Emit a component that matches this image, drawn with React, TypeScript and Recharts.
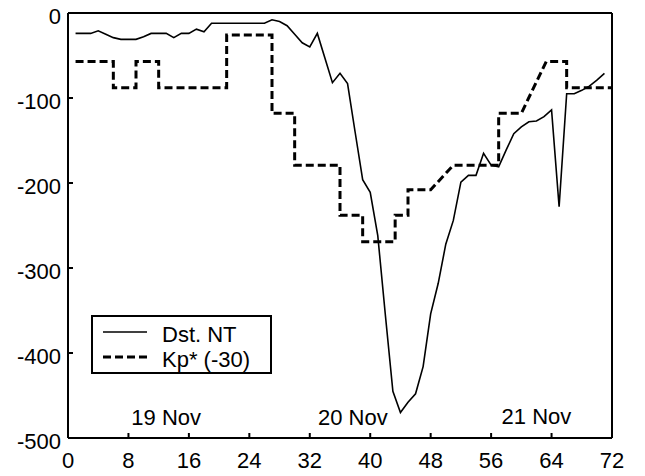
import React from 'react';
import { LineChart, Line, XAxis, YAxis, ReferenceDot, Legend } from 'recharts';

// Dst (hourly, starting at hour 1)
const dstStartHour = 1;
const dstValues = [
  -24, -24, -24, -21, -25, -29, -31, -31, -31, -28,
  -24, -24, -24, -29, -24, -24, -19, -22, -12, -12,
  -12, -12, -12, -12, -12, -12, -8, -10, -15, -25,
  -35, -40, -24, -53, -82, -71, -83, -140, -196, -211,
  -262, -355, -445, -470, -458, -448, -416, -354, -318, -272,
  -244, -199, -191, -191, -165, -179, -181, -161, -142, -134,
  -128, -127, -122, -114, -228, -95, -95, -91, -86, -79,
  -71,
];

// Kp* (-30) drawn as a step outline: vertex times and values
const kpHours = [1, 6, 6, 9, 9, 12, 12, 21, 21, 27, 27, 30, 30, 36, 36, 39, 39, 43.3, 43.3, 45, 45, 48, 51, 57, 57, 60, 63.3, 66, 66, 72];
const kpValues = [-57, -57, -88, -88, -57, -57, -88, -88, -26, -26, -118, -118, -179, -179, -238, -238, -269, -269, -238, -238, -208, -208, -179, -179, -118, -118, -57, -57, -88, -88];

const xTicks = [0, 8, 16, 24, 32, 40, 48, 56, 64, 72];
const yTicks = [-500, -400, -300, -200, -100, 0];

const dayLabels = ['19 Nov', '20 Nov', '21 Nov'];
const dayLabelHours = [13, 37.7, 62];
const dayLabelValues = [-476, -476, -474];

const seriesNames = ['Dst. NT', 'Kp* (-30)'];

const dstData = dstValues.map((v, i) => ({ hour: dstStartHour + i, dst: v }));
const kpData = kpHours.map((h, i) => ({ hour: h, kp: kpValues[i] }));

const FONT = '"Liberation Sans", Arial, sans-serif';
const FS = 22;

const XTick = (props: any) => {
  const { x, y, payload } = props;
  return (
    <text x={x} y={y} textAnchor="middle" fontSize={FS} fontFamily={FONT} fill="#000">
      {payload.value}
    </text>
  );
};

const YTick = (props: any) => {
  const { x, y, payload } = props;
  return (
    <text x={x} y={y + 11} textAnchor="end" fontSize={FS} fontFamily={FONT} fill="#000">
      {payload.value}
    </text>
  );
};

const LegendBox = (props: any) => {
  const payload = (props && props.payload) || [];
  const items = payload.length
    ? payload
    : seriesNames.map((n, i) => ({ value: n, color: '#000', payload: { strokeDasharray: i ? '8 4' : undefined, strokeWidth: i ? 3 : 1.6 } }));
  return (
    <svg width={181} height={59} style={{ display: 'block' }}>
      <rect x={1} y={1} width={179} height={57} fill="#fff" stroke="#000" strokeWidth={2} />
      {items.map((entry: any, i: number) => {
        const p = entry.payload || {};
        const cy = i === 0 ? 17 : 42;
        return (
          <g key={i}>
            <line
              x1={12}
              x2={56}
              y1={cy}
              y2={cy}
              stroke={entry.color || '#000'}
              strokeWidth={p.strokeWidth || 1.6}
              strokeDasharray={p.strokeDasharray}
            />
            <text x={71} y={cy + 9.5} fontSize={FS} fontFamily={FONT} fill="#000">
              {entry.value}
            </text>
          </g>
        );
      })}
    </svg>
  );
};

export default function App() {
  const axisStroke = { stroke: '#000', strokeWidth: 2 };
  return (
    <div style={{ position: 'absolute', left: 0, top: 0, width: 645, height: 476, background: '#fff' }}>
      <LineChart width={645} height={476} margin={{ top: 12, right: 32, bottom: 0, left: 0 }}>
        <XAxis
          xAxisId="bottom"
          dataKey="hour"
          type="number"
          domain={[0, 72]}
          ticks={xTicks}
          allowDataOverflow
          height={38}
          axisLine={axisStroke}
          tickLine={axisStroke}
          tickSize={-5}
          tickMargin={35}
          tick={<XTick />}
          interval={0}
        />
        <XAxis
          xAxisId="top"
          orientation="top"
          dataKey="hour"
          type="number"
          domain={[0, 72]}
          ticks={xTicks}
          allowDataOverflow
          height={1}
          axisLine={axisStroke}
          tickLine={axisStroke}
          tickSize={-5}
          tick={false}
          interval={0}
        />
        <YAxis
          yAxisId="left"
          type="number"
          domain={[-500, 0]}
          ticks={yTicks}
          allowDataOverflow
          width={68}
          axisLine={axisStroke}
          tickLine={axisStroke}
          tickSize={-5}
          tickMargin={12}
          tick={<YTick />}
          interval={0}
        />
        <YAxis
          yAxisId="right"
          orientation="right"
          type="number"
          domain={[-500, 0]}
          ticks={yTicks}
          allowDataOverflow
          width={1}
          axisLine={axisStroke}
          tickLine={axisStroke}
          tickSize={-5}
          tick={false}
          interval={0}
        />
        <Line
          xAxisId="bottom"
          yAxisId="left"
          data={dstData}
          dataKey="dst"
          name={seriesNames[0]}
          type="linear"
          stroke="#000"
          strokeWidth={1.6}
          dot={false}
          activeDot={false}
          isAnimationActive={false}
        />
        <Line
          xAxisId="top"
          yAxisId="right"
          data={kpData}
          dataKey="kp"
          name={seriesNames[1]}
          type="linear"
          stroke="#000"
          strokeWidth={3}
          strokeDasharray="8 4"
          dot={false}
          activeDot={false}
          isAnimationActive={false}
        />
        {dayLabels.map((d, i) => (
          <ReferenceDot
            key={d}
            xAxisId="bottom"
            yAxisId="left"
            x={dayLabelHours[i]}
            y={dayLabelValues[i]}
            r={0}
            fill="none"
            stroke="none"
            label={{ value: d, position: 'center', fontSize: FS, fontFamily: FONT, fill: '#000' }}
          />
        ))}
        <Legend
          layout="vertical"
          align="center"
          verticalAlign="middle"
          wrapperStyle={{ left: 91, top: 315, width: 181, height: 59 }}
          content={<LegendBox />}
        />
      </LineChart>
    </div>
  );
}
